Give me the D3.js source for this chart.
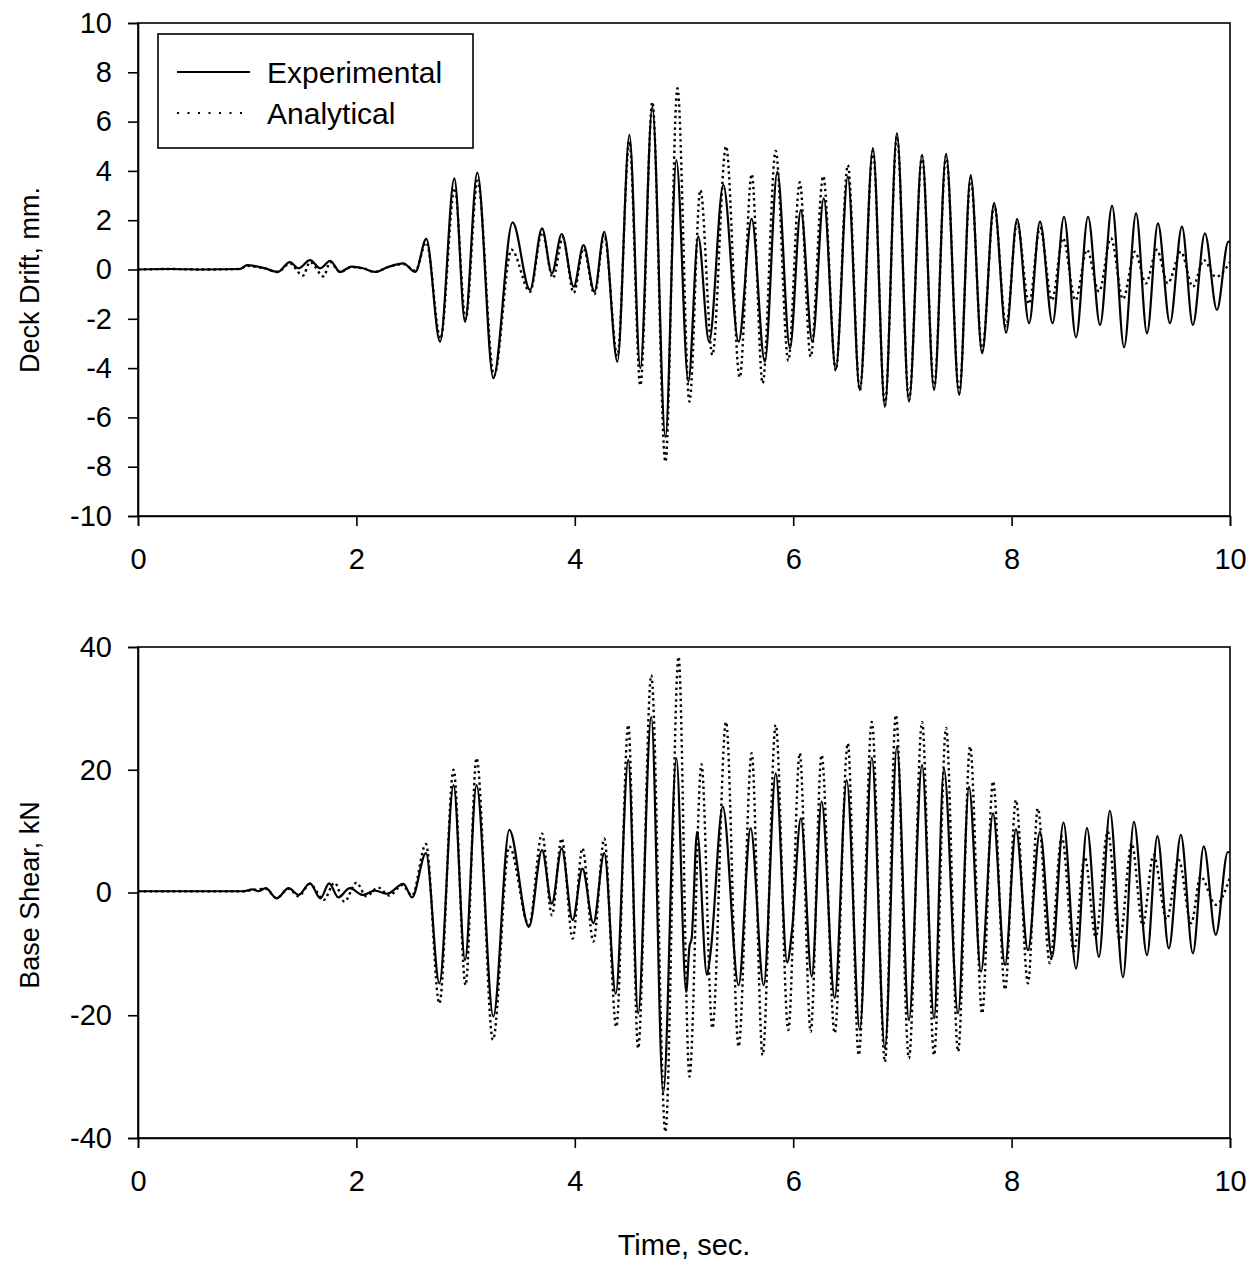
<!DOCTYPE html>
<html><head><meta charset="utf-8">
<script src="https://cdn.jsdelivr.net/npm/d3@7"></script>
<style>
html,body{margin:0;padding:0;background:#fff;}
text{font-family:"Liberation Sans",Arial,sans-serif;fill:#000;}
</style></head>
<body><svg id="c" width="1258" height="1267"></svg>
<script>
// ---------- data ----------
const timeTicks = [0, 2, 4, 6, 8, 10];
const driftTicks = [-10, -8, -6, -4, -2, 0, 2, 4, 6, 8, 10];
const shearTicks = [-40, -20, 0, 20, 40];
const seriesNames = ["Experimental", "Analytical"];

const driftExpT = [0,0.3,0.6,0.93,1.0,1.06,1.16,1.28,1.39,1.47,1.575,1.67,1.76,1.85,1.955,2.06,2.17,2.29,2.43,2.54,2.64,2.766,2.897,2.995,3.107,3.254,3.43,3.59,3.70,3.79,3.88,3.99,4.08,4.18,4.27,4.39,4.50,4.60,4.71,4.83,4.93,5.04,5.13,5.23,5.36,5.50,5.62,5.74,5.855,5.97,6.07,6.175,6.28,6.39,6.50,6.61,6.73,6.84,6.95,7.06,7.18,7.29,7.40,7.52,7.625,7.73,7.84,7.95,8.05,8.16,8.26,8.375,8.48,8.59,8.70,8.81,8.92,9.03,9.14,9.24,9.34,9.45,9.56,9.66,9.77,9.88,9.985,10.0];
const driftExpV = [0,0.02,0,0.02,0.18,0.15,0.05,-0.1,0.3,0.05,0.38,0.05,0.35,-0.1,0.12,0.05,-0.1,0.1,0.25,-0.1,1.24,-2.93,3.70,-2.12,3.93,-4.41,1.91,-0.83,1.67,-0.16,1.44,-0.70,0.99,-0.90,1.53,-3.74,5.46,-4.0,6.6,-6.8,4.44,-4.55,1.33,-2.93,3.43,-2.93,2.05,-3.74,3.97,-3.2,2.41,-2.93,2.89,-4.05,3.77,-4.89,4.92,-5.57,5.53,-5.36,4.65,-4.89,4.69,-5.09,3.83,-3.40,2.69,-2.56,2.04,-2.18,1.94,-2.18,2.14,-2.75,2.14,-2.25,2.58,-3.16,2.28,-2.59,1.87,-2.18,1.74,-2.25,1.47,-1.64,1.13,1.1];

const driftAnaT = [0,0.3,0.6,0.93,1.0,1.06,1.16,1.28,1.39,1.51,1.575,1.70,1.76,1.85,1.955,2.06,2.17,2.29,2.43,2.54,2.64,2.77,2.90,3.0,3.11,3.26,3.42,3.59,3.70,3.80,3.89,3.99,4.08,4.18,4.27,4.39,4.50,4.60,4.71,4.83,4.94,5.05,5.15,5.26,5.385,5.51,5.62,5.72,5.84,5.955,6.06,6.16,6.275,6.39,6.50,6.61,6.73,6.84,6.95,7.06,7.18,7.29,7.40,7.52,7.625,7.73,7.84,7.95,8.05,8.16,8.26,8.37,8.47,8.585,8.69,8.80,8.91,9.02,9.13,9.23,9.33,9.43,9.55,9.66,9.76,9.87,10.0];
const driftAnaV = [0,0.02,0,0.02,0.15,0.12,0.05,-0.1,0.25,-0.25,0.3,-0.28,0.3,-0.1,0.1,0.05,-0.1,0.1,0.22,-0.05,1.1,-2.8,3.3,-2.0,3.6,-4.3,0.8,-0.9,1.5,-0.35,1.3,-0.95,0.85,-1.0,1.4,-3.5,5.2,-4.7,6.8,-7.8,7.35,-5.36,3.23,-3.47,5.0,-4.38,3.87,-4.62,4.81,-3.7,3.54,-3.54,3.79,-4.1,4.24,-4.9,4.8,-5.5,5.4,-5.3,4.6,-4.8,4.6,-5.0,3.7,-3.3,2.6,-2.3,1.9,-1.4,1.7,-1.25,1.27,-1.25,0.8,-0.9,1.27,-1.2,0.72,-0.56,0.8,-0.56,0.72,-0.7,0.38,-0.3,0.3];

const shearExpT = [0,0.3,0.6,0.96,1.05,1.10,1.17,1.27,1.38,1.47,1.575,1.67,1.75,1.835,1.94,2.06,2.17,2.28,2.43,2.51,2.637,2.76,2.89,2.995,3.10,3.254,3.40,3.58,3.70,3.79,3.88,3.98,4.07,4.17,4.27,4.375,4.49,4.58,4.70,4.81,4.93,5.02,5.05,5.07,5.12,5.21,5.245,5.355,5.50,5.61,5.73,5.84,5.945,5.99,6.07,6.17,6.26,6.38,6.49,6.61,6.72,6.84,6.95,7.06,7.18,7.29,7.38,7.51,7.61,7.72,7.83,7.94,8.04,8.15,8.26,8.37,8.475,8.59,8.69,8.80,8.90,9.02,9.12,9.24,9.335,9.44,9.55,9.66,9.76,9.87,9.98,10.0];
const shearExpV = [0.2,0.2,0.2,0.2,0.5,0.2,0.7,-0.95,0.7,-0.4,1.5,-0.95,1.5,-0.8,0.7,-0.4,0.3,-0.2,1.4,-0.8,6.4,-14.8,17.5,-11.0,17.5,-20.2,10.2,-5.6,6.9,-1.8,7.2,-4.5,3.9,-5.0,6.4,-16.5,21.6,-19.7,28.6,-32.7,21.9,-16.2,-8.8,-7.5,9.9,-13.4,-9.5,14.0,-15.1,10.5,-15.1,19.4,-11.4,-6.0,12.1,-13.7,14.8,-17.2,18.3,-22.4,22.0,-25.4,23.8,-20.8,20.8,-20.5,20.2,-19.7,17.2,-12.9,12.9,-11.8,10.3,-9.4,9.9,-10.5,11.4,-12.4,10.5,-10.5,13.3,-13.8,11.5,-10.2,9.2,-9.1,9.4,-9.9,7.5,-6.9,6.6,6.5];

const shearAnaT = [0,0.3,0.6,0.96,1.05,1.17,1.27,1.38,1.47,1.575,1.70,1.80,1.89,2.00,2.09,2.20,2.30,2.42,2.51,2.637,2.76,2.89,3.0,3.10,3.25,3.40,3.58,3.70,3.79,3.88,3.98,4.07,4.17,4.27,4.38,4.49,4.58,4.70,4.83,4.95,5.05,5.16,5.26,5.385,5.50,5.62,5.72,5.84,5.955,6.06,6.16,6.26,6.38,6.50,6.60,6.72,6.84,6.94,7.06,7.18,7.29,7.40,7.51,7.62,7.73,7.83,7.94,8.04,8.15,8.24,8.35,8.46,8.57,8.67,8.77,8.88,8.99,9.10,9.20,9.30,9.42,9.53,9.645,9.73,9.87,10.0];
const shearAnaV = [0.2,0.2,0.2,0.2,0.4,0.6,-0.9,0.6,-0.6,1.4,-1.2,1.6,-1.5,1.6,-0.6,0.8,-0.5,1.2,-0.5,7.9,-18.1,20.0,-15.1,21.9,-24.0,7.5,-5.3,9.6,-3.7,8.8,-7.5,7.2,-8.0,8.8,-21.9,27.3,-25.4,35.4,-39.0,38.4,-30.0,20.9,-22.1,27.8,-25.1,22.7,-26.5,27.3,-22.4,22.7,-22.7,22.4,-22.9,24.3,-26.5,27.8,-27.6,28.9,-27.0,27.8,-26.5,26.8,-25.9,23.8,-19.7,18.1,-15.8,15.1,-14.8,13.7,-11.5,9.1,-9.6,5.8,-7.2,9.9,-7.7,8.0,-5.3,6.1,-4.4,5.3,-5.0,2.6,-2.0,2.5];

// ---------- drawing ----------
const svg = d3.select("#c");
const X0 = 138, X1 = 1230;
const FS = 29;

function panel(opts){
  const x = d3.scaleLinear().domain([0,10]).range([X0, X1]);
  const y = d3.scaleLinear().domain(opts.domain).range([opts.bottom, opts.top]);
  const g = svg.append("g");
  const id = "clip" + opts.key;
  svg.append("clipPath").attr("id", id).append("rect")
    .attr("x", X0).attr("y", opts.top - 2).attr("width", X1 - X0).attr("height", opts.bottom - opts.top + 4);

  const line = d3.line().x(d => x(d[0])).y(d => y(d[1])).curve(d3.curveMonotoneX);
  const expPts = opts.expT.map((t,i) => [t, opts.expV[i]]);
  const anaPts = opts.anaT.map((t,i) => [t, opts.anaV[i]]);
  const lg = g.append("g").attr("clip-path", `url(#${id})`);
  lg.append("path").datum(anaPts).attr("d", line)
    .attr("fill","none").attr("stroke","#000").attr("stroke-width",2.4)
    .attr("stroke-dasharray","2.4,3.4");
  lg.append("path").datum(expPts).attr("d", line)
    .attr("fill","none").attr("stroke","#000").attr("stroke-width",2.2)
    .attr("stroke-linejoin","round");

  // frame
  g.append("rect").attr("x",X0).attr("y",opts.top).attr("width",X1-X0).attr("height",opts.bottom-opts.top)
    .attr("fill","none").attr("stroke","#000").attr("stroke-width",1.6);

  const ax = g.append("g").attr("transform",`translate(0,${opts.bottom})`)
    .call(d3.axisBottom(x).tickValues(timeTicks).tickFormat(d3.format("d")).tickSize(10).tickPadding(22));
  const ay = g.append("g").attr("transform",`translate(${X0},0)`)
    .call(d3.axisLeft(y).tickValues(opts.ticks).tickFormat(d3.format("d")).tickSize(10).tickPadding(16));
  [ax, ay].forEach(a => {
    a.select(".domain").attr("stroke","#000").attr("stroke-width",1.6);
    a.selectAll(".tick line").attr("stroke","#000").attr("stroke-width",1.6);
    a.selectAll(".tick text").attr("font-size",FS).attr("font-family",'"Liberation Sans",Arial,sans-serif').attr("fill","#000");
  });
  ay.selectAll(".tick text").text(d => d < 0 ? "-" + Math.abs(d) : d);

  svg.append("text").attr("transform",`translate(39,${opts.titleY}) rotate(-90)`)
    .attr("text-anchor","middle").attr("font-size",27).text(opts.title);
  return {x, y};
}

panel({key:"a", domain:[-10,10], top:23, bottom:516, ticks:driftTicks, title:"Deck Drift, mm.", titleY:280,
  expT:driftExpT, expV:driftExpV, anaT:driftAnaT, anaV:driftAnaV});
panel({key:"b", domain:[-40,40], top:647, bottom:1138, ticks:shearTicks, title:"Base Shear, kN", titleY:895,
  expT:shearExpT, expV:shearExpV, anaT:shearAnaT, anaV:shearAnaV});

svg.append("text").attr("x",684).attr("y",1255).attr("text-anchor","middle").attr("font-size",FS).text("Time, sec.");

// legend
const leg = svg.append("g");
leg.append("rect").attr("x",158).attr("y",34).attr("width",315).attr("height",114)
  .attr("fill","#fff").attr("stroke","#000").attr("stroke-width",1.6);
const legRows = [{y:72, dash:null}, {y:113, dash:"2,8.5"}];
seriesNames.forEach((n,i) => {
  const r = legRows[i];
  const l = leg.append("line").attr("x1",177).attr("x2",250).attr("y1",r.y).attr("y2",r.y)
    .attr("stroke","#000").attr("stroke-width",2);
  if (r.dash) l.attr("stroke-dasharray", r.dash);
  leg.append("text").attr("x",267).attr("y",r.y + 10.5).attr("font-size",30).text(n);
});
</script>
</body></html>
